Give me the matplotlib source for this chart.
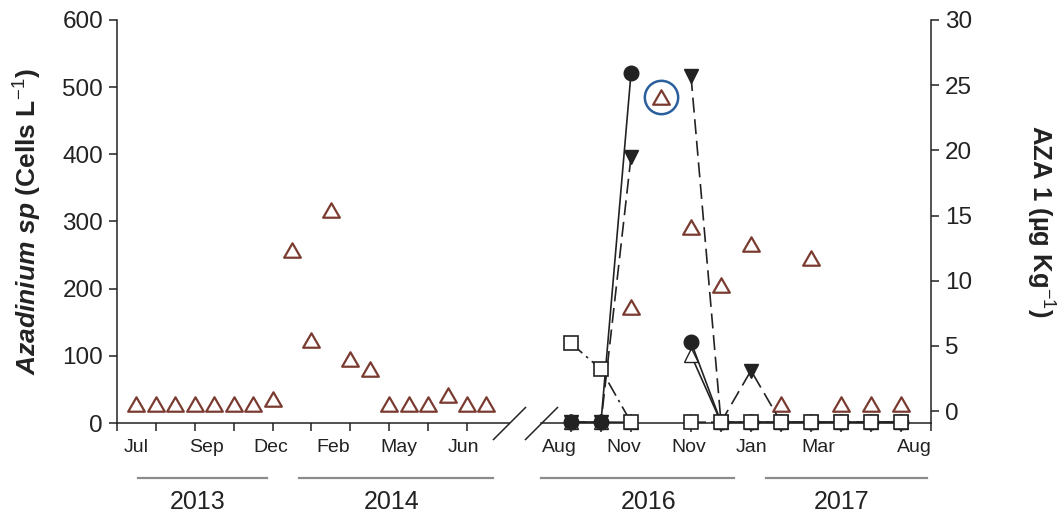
import numpy as np
import matplotlib
matplotlib.use("Agg")
import matplotlib.pyplot as plt
from matplotlib.path import Path
from matplotlib.transforms import blended_transform_factory

plt.rcParams['font.family'] = ['Liberation Sans', 'DejaVu Sans']
plt.rcParams['mathtext.fontset'] = 'custom'
plt.rcParams['mathtext.rm'] = 'Liberation Sans'
plt.rcParams['mathtext.it'] = 'Liberation Sans:bold:italic'
plt.rcParams['mathtext.default'] = 'rm'

# Azadinium sp cell counts (Cells L-1), 2013-2014 sampling
x_1314 = np.arange(1, 20)
cells_1314 = [29, 29, 29, 29, 29, 29, 29, 36, 258, 123, 317, 96, 81, 29, 29, 29, 41, 29, 29]
months_1314 = ['Jul', 'Sep', 'Dec', 'Feb', 'May', 'Jun']
month_pos_1314 = [1.0, 4.6, 7.9, 11.1, 14.5, 17.8]

# 2016-2017 sampling (position 4 = no shellfish sample)
x_1617 = np.arange(1, 13)
cells_1617 = [np.nan, np.nan, 173, 485, 292, 205, 266, 29, 245, 29, 29, 29]
months_1617 = ['Aug', 'Nov', 'Nov', 'Jan', 'Mar', 'Aug']
month_pos_1617 = [0.6, 2.77, 4.93, 7.03, 9.23, 12.43]

# AZA 1 in shellfish (ug Kg-1); nd = below quantification, drawn on the baseline
nd = -0.86
nan = np.nan
aza_circle = [nd, nd, 25.9, nan, 5.3, nd, nd, nd, nd, nd, nd, nd]
aza_invtri = [nd, nd, 19.5, nan, 25.7, nd, 3.1, nd, nd, nd, nd, nd]
aza_square = [5.2, 3.2, nd, nan, nd, nd, nd, nd, nd, nd, nd, nd]
aza_opentri = [nd, nd, nd, nan, 4.3, nd, nd, nd, nd, nd, nd, nd]

years = ['2013', '2014', '2016', '2017']

W, H = 1058, 512
ink = '#222222'
brown = '#7a3b30'
# closed equilateral triangle, centred on its bounding box
tri = Path([(-1, -0.866), (1, -0.866), (0, 0.866), (-1, -0.866)], closed=True)


def box(l, r, t, b):
    return [l / W, 1 - b / H, (r - l) / W, (b - t) / H]


fig = plt.figure(figsize=(W / 100, H / 100), dpi=100)
ax1 = fig.add_axes(box(117, 509, 20, 423))
ax2 = fig.add_axes(box(541, 931, 20, 423))
ax2r = ax2.twinx()

# left panel: 2013-2014
ax1.plot(x_1314, cells_1314, ls='none', marker=tri, ms=12, mfc='white',
         mec=brown, mew=1.6, clip_on=False, zorder=3)
ax1.set_xlim(0, 20.16)
ax1.set_ylim(0, 600)
ax1.spines[['top', 'right']].set_visible(False)
ax1.set_xticks(np.arange(0, 19, 2))
ax1.set_xticklabels([])
ax1.set_yticks(range(0, 601, 100))
ax1.tick_params(axis='x', length=6, width=1.1, color=ink)
ax1.tick_params(axis='y', length=6, width=1.1, color=ink, labelsize=17.5,
                labelcolor=ink, pad=4)
ax1.set_ylabel(r'$\mathit{Azadinium\ sp}$ (Cells L$^{-1}$)', fontsize=19,
               fontweight='bold', color=ink, va='center')
ax1.yaxis.set_label_coords(-0.227, 0.5)

# right panel: 2016-2017
ax2.plot(x_1617, cells_1617, ls='none', marker=tri, ms=12, mfc='white',
         mec=brown, mew=1.6, zorder=3)
ax2.plot(4, cells_1617[3], marker='o', ms=24, mfc='none', mec='#2b5e9c', mew=1.8)
ax2.set_xlim(0, 13)
ax2.set_ylim(0, 600)
ax2.spines[['top', 'left', 'right']].set_visible(False)
ax2.set_yticks([])
ax2.set_xticks([13])
ax2.set_xticklabels([])
ax2.set_xticks([1, 2, 3, 5, 6, 7, 8, 9, 10, 11, 12], minor=True)
ax2.tick_params(axis='x', which='major', length=6, width=1.1, color=ink)
ax2.tick_params(axis='x', which='minor', direction='inout', length=13,
                width=1.1, color=ink)

line_kw = dict(color=ink, lw=1.2, clip_on=False)
ax2r.plot(x_1617, aza_invtri, ls=(0, (9, 4)), marker='v', ms=10,
          mfc=ink, mec=ink, **line_kw)
ax2r.plot(x_1617, aza_opentri, marker='^', ms=10, mfc='white', mec=ink,
          mew=1.0, **line_kw)
ax2r.plot(x_1617, aza_circle, marker='o', ms=10.5, mfc=ink, mec=ink, **line_kw)
ax2r.plot(x_1617, aza_square, ls=(0, (9, 3, 1.5, 3)), marker='s', ms=9.5,
          mfc='white', mec=ink, mew=1.2, **line_kw)
ax2r.set_ylim(-0.92, 30)
ax2r.spines[['top', 'left', 'bottom']].set_visible(False)
ax2r.set_yticks(range(0, 31, 5))
ax2r.tick_params(axis='y', length=6, width=1.1, color=ink, labelsize=17.5,
                 labelcolor=ink, pad=4)
ax2r.set_ylabel(r'AZA 1 (µg Kg$^{-1}$)', fontsize=18.5, fontweight='bold',
                color=ink, rotation=270, va='center')
ax2r.yaxis.set_label_coords(1.28, 0.5)

for ax in (ax1, ax2, ax2r):
    for s in ax.spines.values():
        s.set_linewidth(1.1)
        s.set_color(ink)

# axis break marks
brk = dict(marker=[(-1, -1), (1, 1)], ms=23.8, ls='none', color=ink, mec=ink,
           mew=1.1, clip_on=False)
ax1.plot([1], [0], transform=ax1.transAxes, **brk)
ax2.plot([0], [0], transform=ax2.transAxes, **brk)

# month labels, year bars and year labels
for ax, pos, lab in ((ax1, month_pos_1314, months_1314),
                     (ax2, month_pos_1617, months_1617)):
    tr = blended_transform_factory(ax.transData, ax.transAxes)
    for p, m in zip(pos, lab):
        ax.text(p, -0.06, m, transform=tr, ha='center', va='center',
                fontsize=14, color=ink)

bars = [(ax1, 1.08, 7.72, 4.17), (ax1, 9.36, 19.34, 14.1),
        (ax2, 0.0, 6.43, 3.57), (ax2, 7.5, 12.87, 10.03)]
for (ax, x0, x1, xc), yr in zip(bars, years):
    tr = blended_transform_factory(ax.transData, ax.transAxes)
    ax.plot([x0, x1], [-0.1365, -0.1365], transform=tr, color='#8c8c8c',
            lw=1.6, clip_on=False)
    ax.text(xc, -0.196, yr, transform=tr, ha='center', va='center',
            fontsize=18, color=ink)

fig.savefig('out.png', dpi=100)
